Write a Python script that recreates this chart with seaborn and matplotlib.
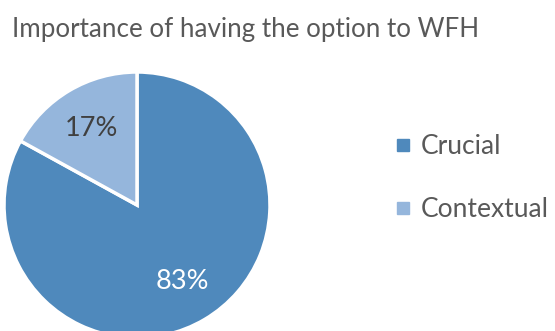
import matplotlib
matplotlib.use("Agg")
import matplotlib.pyplot as plt
import seaborn as sns
from matplotlib.lines import Line2D

sns.set_theme(style="white")
plt.rcParams['font.family'] = ['Lato', 'DejaVu Sans']

categories = ["Crucial", "Contextual"]
values = [83, 17]
colors = ["#4F89BC", "#95B6DC"]
title = "Importance of having the option to WFH"

W, H = 555, 331
fig = plt.figure(figsize=(W / 100, H / 100), dpi=100)
fig.patch.set_facecolor("white")

cx, cy, r = 137, 205, 133
ax = fig.add_axes([(cx - r) / W, (H - cy - r) / H, 2 * r / W, 2 * r / H])
wedges, texts, autotexts = ax.pie(
    values, colors=colors, startangle=90, counterclock=False,
    autopct=lambda p: f"{p:.0f}%", pctdistance=0.67,
    wedgeprops=dict(edgecolor="white", linewidth=2.5),
    textprops=dict(fontsize=19.5),
)
autotexts[0].set_color("white")
autotexts[1].set_color("#404040")
ax.set_xlim(-1, 1)
ax.set_ylim(-1, 1)
ax.set_aspect("equal")
ax.axis("off")

fig.text(12 / W, 1 - 30 / H, title, fontsize=18.7, color="#595959", va="center", ha="left")

handles = [Line2D([0], [0], marker="s", linestyle="none", markersize=8,
                  markerfacecolor=c, markeredgecolor=c) for c in colors]
leg = fig.legend(handles, categories, loc="center left",
                 bbox_to_anchor=(395.5 / W, 1 - 178 / H), frameon=False,
                 fontsize=19, labelspacing=1.45, handletextpad=0.36,
                 handlelength=0.6, borderpad=0, borderaxespad=0,
                 labelcolor="#595959")

fig.savefig("out.png", dpi=100, facecolor="white")
